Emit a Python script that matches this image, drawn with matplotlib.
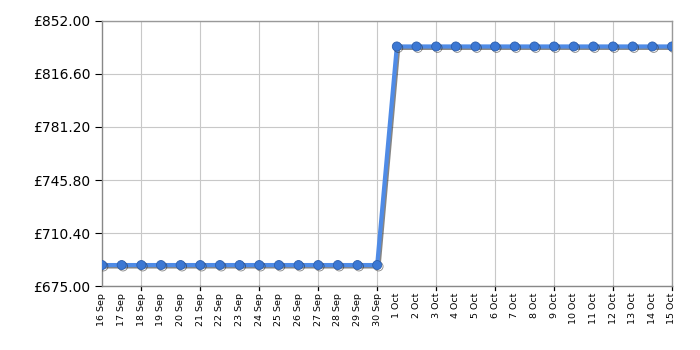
import numpy as np
import matplotlib
matplotlib.use("Agg")
import matplotlib.pyplot as plt
import matplotlib.patheffects as pe

# price history, 16 Sep -> 15 Oct
dates = ["16 Sep", "17 Sep", "18 Sep", "19 Sep", "20 Sep", "21 Sep", "22 Sep", "23 Sep",
         "24 Sep", "25 Sep", "26 Sep", "27 Sep", "28 Sep", "29 Sep", "30 Sep",
         "1 Oct", "2 Oct", "3 Oct", "4 Oct", "5 Oct", "6 Oct", "7 Oct", "8 Oct",
         "9 Oct", "10 Oct", "11 Oct", "12 Oct", "13 Oct", "14 Oct", "15 Oct"]
prices = [688.99] * 15 + [834.99] * 15
y_ticks = [675.00, 710.40, 745.80, 781.20, 816.60, 852.00]

x = np.arange(len(dates))

fig = plt.figure(figsize=(7, 3.5), dpi=100)
ax = fig.add_axes([102 / 700, 64 / 350, 570 / 700, 265 / 350])

shadow = [pe.SimpleLineShadow(offset=(1, -1), shadow_color="#222222", alpha=0.55), pe.Normal()]
ax.plot(x, prices, color="#4f8be6", lw=3, zorder=3, path_effects=shadow)
ax.plot(x, prices, ls="none", marker="o", ms=6.5, mfc="#3c78d4", mec="#2d5fae", mew=0.6,
        zorder=4, path_effects=shadow)

ax.set_xlim(0, len(dates) - 1)
ax.set_ylim(675, 852)
ax.set_yticks(y_ticks)
ax.set_yticklabels(["£%.2f" % v for v in y_ticks], fontsize=10)
ax.set_xticks(x)
ax.set_xticklabels(dates, rotation=90, fontsize=6.8)
ax.tick_params(axis="x", length=0, pad=5)
ax.tick_params(axis="y", length=5, color="black")

# grid every 3 days starting 18 Sep
for gx in range(2, len(dates), 3):
    ax.axvline(gx, color="#c8c8c8", lw=0.8, zorder=1)
    ax.plot([gx, gx], [0, -0.015], transform=ax.get_xaxis_transform(), color="black",
            lw=0.9, clip_on=False)
ax.yaxis.grid(True, color="#c8c8c8", lw=0.8)
ax.set_axisbelow(True)
for s in ax.spines.values():
    s.set_color("#999999")
    s.set_linewidth(1)
ax.spines["left"].set_color("#888888")
ax.spines["bottom"].set_color("#888888")

fig.savefig("out.png", dpi=100)
